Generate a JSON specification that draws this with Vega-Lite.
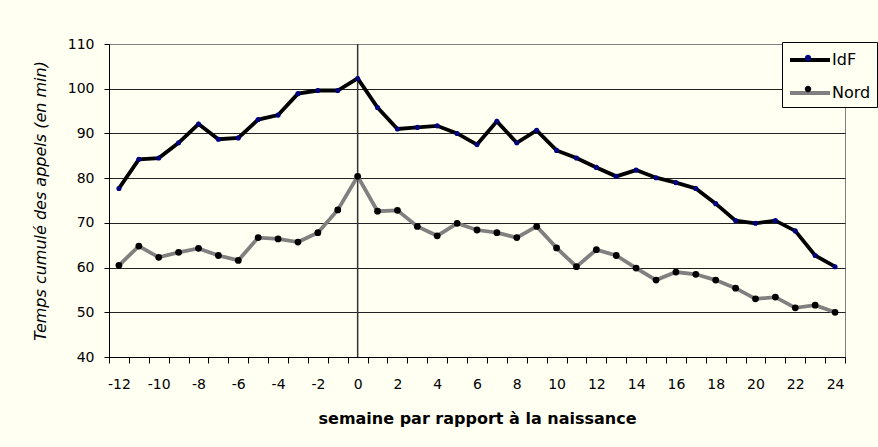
{
  "$schema": "https://vega.github.io/schema/vega-lite/v6.json",
  "autosize": {"type": "none"},
  "width": 736,
  "height": 313,
  "padding": {"left": 109, "top": 44, "right": 33, "bottom": 90},
  "background": "#FFFFF2",
  "config": {
    "view": {"stroke": "#808080", "strokeWidth": 1, "fill": "#FFFFF2"},
    "font": "DejaVu Sans"
  },
  "datasets": {
    "appels": [
      {"semaine": -12, "serie": "IdF", "temps": 77.7},
      {"semaine": -11, "serie": "IdF", "temps": 84.2},
      {"semaine": -10, "serie": "IdF", "temps": 84.5},
      {"semaine": -9, "serie": "IdF", "temps": 87.9},
      {"semaine": -8, "serie": "IdF", "temps": 92.1},
      {"semaine": -7, "serie": "IdF", "temps": 88.7},
      {"semaine": -6, "serie": "IdF", "temps": 89.0},
      {"semaine": -5, "serie": "IdF", "temps": 93.1},
      {"semaine": -4, "serie": "IdF", "temps": 94.1},
      {"semaine": -3, "serie": "IdF", "temps": 98.9},
      {"semaine": -2, "serie": "IdF", "temps": 99.6},
      {"semaine": -1, "serie": "IdF", "temps": 99.6},
      {"semaine": 0, "serie": "IdF", "temps": 102.3},
      {"semaine": 1, "serie": "IdF", "temps": 95.8},
      {"semaine": 2, "serie": "IdF", "temps": 91.0},
      {"semaine": 3, "serie": "IdF", "temps": 91.35},
      {"semaine": 4, "serie": "IdF", "temps": 91.7},
      {"semaine": 5, "serie": "IdF", "temps": 90.0},
      {"semaine": 6, "serie": "IdF", "temps": 87.5},
      {"semaine": 7, "serie": "IdF", "temps": 92.7},
      {"semaine": 8, "serie": "IdF", "temps": 87.9},
      {"semaine": 9, "serie": "IdF", "temps": 90.7},
      {"semaine": 10, "serie": "IdF", "temps": 86.2},
      {"semaine": 11, "serie": "IdF", "temps": 84.5},
      {"semaine": 12, "serie": "IdF", "temps": 82.4},
      {"semaine": 13, "serie": "IdF", "temps": 80.4},
      {"semaine": 14, "serie": "IdF", "temps": 81.8},
      {"semaine": 15, "serie": "IdF", "temps": 80.1},
      {"semaine": 16, "serie": "IdF", "temps": 79.0},
      {"semaine": 17, "serie": "IdF", "temps": 77.7},
      {"semaine": 18, "serie": "IdF", "temps": 74.3},
      {"semaine": 19, "serie": "IdF", "temps": 70.5},
      {"semaine": 20, "serie": "IdF", "temps": 69.9},
      {"semaine": 21, "serie": "IdF", "temps": 70.5},
      {"semaine": 22, "serie": "IdF", "temps": 68.2},
      {"semaine": 23, "serie": "IdF", "temps": 62.7},
      {"semaine": 24, "serie": "IdF", "temps": 60.2},
      {"semaine": -12, "serie": "Nord", "temps": 60.5},
      {"semaine": -11, "serie": "Nord", "temps": 64.8},
      {"semaine": -10, "serie": "Nord", "temps": 62.3},
      {"semaine": -9, "serie": "Nord", "temps": 63.4},
      {"semaine": -8, "serie": "Nord", "temps": 64.3},
      {"semaine": -7, "serie": "Nord", "temps": 62.7},
      {"semaine": -6, "serie": "Nord", "temps": 61.6},
      {"semaine": -5, "serie": "Nord", "temps": 66.7},
      {"semaine": -4, "serie": "Nord", "temps": 66.4},
      {"semaine": -3, "serie": "Nord", "temps": 65.7},
      {"semaine": -2, "serie": "Nord", "temps": 67.8},
      {"semaine": -1, "serie": "Nord", "temps": 72.9},
      {"semaine": 0, "serie": "Nord", "temps": 80.4},
      {"semaine": 1, "serie": "Nord", "temps": 72.6},
      {"semaine": 2, "serie": "Nord", "temps": 72.8},
      {"semaine": 3, "serie": "Nord", "temps": 69.2},
      {"semaine": 4, "serie": "Nord", "temps": 67.1},
      {"semaine": 5, "serie": "Nord", "temps": 69.9},
      {"semaine": 6, "serie": "Nord", "temps": 68.4},
      {"semaine": 7, "serie": "Nord", "temps": 67.8},
      {"semaine": 8, "serie": "Nord", "temps": 66.7},
      {"semaine": 9, "serie": "Nord", "temps": 69.2},
      {"semaine": 10, "serie": "Nord", "temps": 64.4},
      {"semaine": 11, "serie": "Nord", "temps": 60.2},
      {"semaine": 12, "serie": "Nord", "temps": 64.0},
      {"semaine": 13, "serie": "Nord", "temps": 62.7},
      {"semaine": 14, "serie": "Nord", "temps": 59.9},
      {"semaine": 15, "serie": "Nord", "temps": 57.2},
      {"semaine": 16, "serie": "Nord", "temps": 59.0},
      {"semaine": 17, "serie": "Nord", "temps": 58.5},
      {"semaine": 18, "serie": "Nord", "temps": 57.2},
      {"semaine": 19, "serie": "Nord", "temps": 55.4},
      {"semaine": 20, "serie": "Nord", "temps": 53.0},
      {"semaine": 21, "serie": "Nord", "temps": 53.4},
      {"semaine": 22, "serie": "Nord", "temps": 51.0},
      {"semaine": 23, "serie": "Nord", "temps": 51.6},
      {"semaine": 24, "serie": "Nord", "temps": 50.0}
    ]
  },
  "encoding": {
    "x": {
      "field": "semaine",
      "type": "quantitative",
      "scale": {"domain": [-12.5, 24.5], "nice": false, "zero": false},
      "axis": {
        "title": "semaine par rapport à la naissance",
        "values": [-12.5, -12, -11.5, -10.5, -10, -9.5, -8.5, -8, -7.5, -6.5, -6, -5.5, -4.5, -4, -3.5, -2.5, -2, -1.5, -0.5, 0, 0.5, 1.5, 2, 2.5, 3.5, 4, 4.5, 5.5, 6, 6.5, 7.5, 8, 8.5, 9.5, 10, 10.5, 11.5, 12, 12.5, 13.5, 14, 14.5, 15.5, 16, 16.5, 17.5, 18, 18.5, 19.5, 20, 20.5, 21.5, 22, 22.5, 23.5, 24, 24.5],
        "labelExpr": "datum.value % 2 === 0 ? ('' + datum.value) : ''",
        "tickOpacity": {"condition": {"test": "datum.value % 1 !== 0", "value": 1}, "value": 0},
        "tickSize": 6,
        "tickColor": "black",
        "domainColor": "black",
        "grid": false,
        "labelFont": "DejaVu Sans",
        "labelFontSize": 14,
        "labelColor": "black",
        "labelPadding": 14,
        "labelOverlap": false,
        "labelFlush": false,
        "labelBound": false,
        "titleFont": "DejaVu Sans",
        "titleFontWeight": "bold",
        "titleFontSize": 16,
        "titleColor": "black",
        "titlePadding": 19
      }
    }
  },
  "layer": [
    {
      "data": {"values": [{"semaine": 0}]},
      "mark": {"type": "rule", "color": "#333333", "strokeWidth": 1.5},
      "encoding": {}
    },
    {
      "data": {"name": "appels"},
      "mark": {"type": "line", "strokeWidth": 3.8},
      "encoding": {
        "y": {
          "field": "temps",
          "type": "quantitative",
          "scale": {"domain": [40, 110], "nice": false, "zero": false},
          "axis": {
            "title": "Temps cumulé des appels (en min)",
            "values": [40, 50, 60, 70, 80, 90, 100, 110],
            "grid": true,
            "gridColor": {"condition": {"test": "datum.value === 110", "value": "#808080"}, "value": "#222222"},
            "gridWidth": 1,
            "tickSize": 5,
            "tickColor": "black",
            "domainColor": "black",
            "labelFont": "DejaVu Sans",
            "labelFontSize": 14,
            "labelColor": "black",
            "labelPadding": 10,
            "titleFont": "DejaVu Sans",
            "titleFontStyle": "italic",
            "titleFontWeight": "normal",
            "titleFontSize": 16,
            "titleColor": "black",
            "titlePadding": 19
          }
        },
        "stroke": {
          "field": "serie",
          "type": "nominal",
          "scale": {"domain": ["IdF", "Nord"], "range": ["#000000", "#808080"]},
          "legend": {
            "title": null,
            "orient": "none",
            "legendX": 673,
            "legendY": -2,
            "padding": 6,
            "symbolType": "M-2,0H2",
            "symbolSize": 400,
            "symbolOffset": 10,
            "symbolStrokeWidth": 4,
            "labelFont": "DejaVu Sans",
            "labelFontSize": 16,
            "labelColor": "black",
            "labelOffset": 10,
            "rowPadding": 13,
            "strokeColor": "black",
            "fillColor": "#FFFFF2"
          }
        }
      }
    },
    {
      "data": {"name": "appels"},
      "transform": [{"filter": "datum.serie === 'IdF'"}],
      "mark": {"type": "point", "filled": true, "opacity": 1, "strokeWidth": 0, "size": 26},
      "encoding": {
        "y": {"field": "temps", "type": "quantitative"},
        "fill": {
          "field": "serie",
          "type": "nominal",
          "scale": {"range": ["#000080", "#000000"]},
          "legend": {
            "title": null,
            "orient": "none",
            "legendX": 673,
            "legendY": -2,
            "padding": 6,
            "symbolType": "M0.32,0A0.32,0.32 0 1 1 -0.32,0A0.32,0.32 0 1 1 0.32,0Z",
            "symbolSize": 400,
            "symbolOffset": 10,
            "symbolStrokeWidth": 0,
            "labelExpr": "''",
            "labelFont": "DejaVu Sans",
            "labelFontSize": 16,
            "labelColor": "black",
            "labelOpacity": 0,
            "labelOffset": 10,
            "rowPadding": 13,
            "strokeColor": "transparent",
            "fillColor": "transparent"
          }
        }
      }
    },
    {
      "data": {"name": "appels"},
      "transform": [{"filter": "datum.serie === 'Nord'"}],
      "mark": {"type": "point", "filled": true, "opacity": 1, "strokeWidth": 0, "size": 46},
      "encoding": {
        "y": {"field": "temps", "type": "quantitative"},
        "fill": {"field": "serie", "type": "nominal"}
      }
    }
  ]
}
